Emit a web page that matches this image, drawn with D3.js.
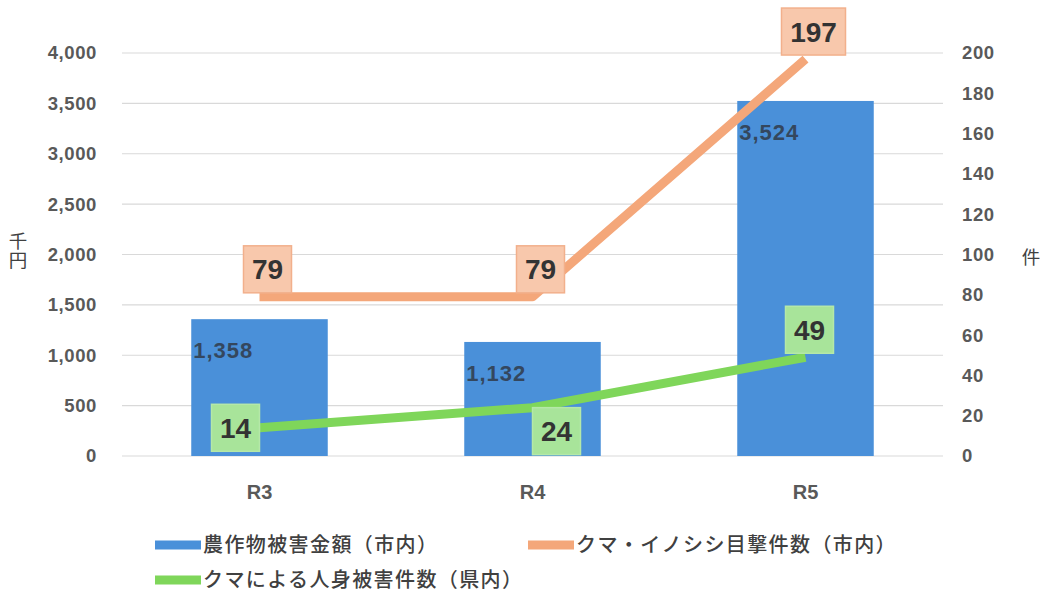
<!DOCTYPE html>
<html><head><meta charset="utf-8">
<script src="https://cdn.jsdelivr.net/npm/d3@7"></script>
<style>body{margin:0;background:#fff}svg{display:block}</style>
</head><body><svg id="c" width="1050" height="596"></svg>
<script>
const categories = ["R3", "R4", "R5"];
const cropDamage = [1358, 1132, 3524];        // 農作物被害金額（市内） 千円
const sightings = [79, 79, 197];              // クマ・イノシシ目撃件数（市内） 件
const injuries = [14, 24, 49];                // クマによる人身被害件数（県内） 件
const leftTicks = [0, 500, 1000, 1500, 2000, 2500, 3000, 3500, 4000];
const rightTicks = [0, 20, 40, 60, 80, 100, 120, 140, 160, 180, 200];
const seriesNames = ["農作物被害金額（市内）", "クマ・イノシシ目撃件数（市内）", "クマによる人身被害件数（県内）"];

const svg = d3.select("#c");
const L = 123, R = 942, T = 53, B = 456;
const font = "'Liberation Sans', Arial, 'Noto Sans CJK JP', sans-serif";
const cjk = "'Noto Sans CJK JP', sans-serif";
const blue = "#4A90D9", orange = "#F4A77A", green = "#7FD65A";
const orangeFill = "#F8C8AC", greenFill = "#A8E49A";

const x = d3.scaleBand().domain(categories).range([L, R]).paddingInner(0.5).paddingOuter(0.25);
const yL = d3.scaleLinear().domain([0, 4000]).range([B, T]);
const yR = d3.scaleLinear().domain([0, 200]).range([B, T]);

// gridlines
svg.append("g").selectAll("line").data(leftTicks).join("line")
  .attr("x1", L - 1).attr("x2", R + 1)
  .attr("y1", d => yL(d)).attr("y2", d => yL(d))
  .attr("stroke", "#d9d9d9").attr("stroke-width", 1.2);

// left axis
const ax = svg.append("g").attr("transform", `translate(${L - 26},0)`)
  .call(d3.axisLeft(yL).tickValues(leftTicks).tickSize(0).tickPadding(0).tickFormat(d3.format(",")));
ax.select(".domain").remove();
ax.selectAll("text").attr("font-family", font).attr("font-size", 18.5).attr("font-weight", "bold")
  .attr("letter-spacing", 0.6).attr("fill", "#595959");

const axr = svg.append("g").attr("transform", `translate(${R + 20},0)`)
  .call(d3.axisRight(yR).tickValues(rightTicks).tickSize(0).tickPadding(0));
axr.select(".domain").remove();
axr.selectAll("text").attr("font-family", font).attr("font-size", 18.5).attr("font-weight", "bold")
  .attr("letter-spacing", 0.6).attr("fill", "#595959");

// axis titles
svg.append("text").attr("x", 18).attr("y", 232)
  .attr("writing-mode", "vertical-rl").style("writing-mode", "vertical-rl")
  .attr("font-family", cjk).attr("font-size", 18.5).attr("fill", "#404040").text("千円");
svg.append("text").attr("x", 1031).attr("y", 264).attr("text-anchor", "middle")
  .attr("font-family", cjk).attr("font-size", 18.5).attr("fill", "#404040").text("件");

// category labels
svg.append("g").selectAll("text").data(categories).join("text")
  .attr("x", d => x(d) + x.bandwidth() / 2).attr("y", 499).attr("text-anchor", "middle")
  .attr("font-family", font).attr("font-size", 20).attr("font-weight", "bold").attr("fill", "#595959")
  .text(d => d);

// bars
svg.append("g").selectAll("rect").data(categories).join("rect")
  .attr("x", d => x(d)).attr("width", x.bandwidth())
  .attr("y", (d, i) => yL(cropDamage[i])).attr("height", (d, i) => B - yL(cropDamage[i]))
  .attr("fill", blue);

// bar labels
svg.append("g").selectAll("text").data(categories).join("text")
  .attr("x", d => x(d) + 2).attr("y", (d, i) => yL(cropDamage[i]) + 39)
  .attr("font-family", font).attr("font-size", 22).attr("font-weight", "bold")
  .attr("letter-spacing", 1).attr("fill", "#34475e")
  .text((d, i) => d3.format(",")(cropDamage[i]));

const cx = d => x(d) + x.bandwidth() / 2;

// lines
const line = d3.line().x((d, i) => cx(categories[i])).y(d => yR(d));
svg.append("path").datum(sightings).attr("d", line)
  .attr("fill", "none").attr("stroke", orange).attr("stroke-width", 9).attr("stroke-linejoin", "round");
svg.append("path").datum(injuries).attr("d", line)
  .attr("fill", "none").attr("stroke", green).attr("stroke-width", 9).attr("stroke-linejoin", "round");

// value boxes
function box(px, py, txt, fill, stroke, place) {
  const h = 47, w = txt.length > 2 ? 64 : 48;
  let bx, by;
  if (place === "above") { bx = px - w / 2 + 8; by = py - h - 4; }
  else if (place === "left") { bx = px - w; by = py - h / 2; }
  else { bx = px; by = py; }
  svg.append("rect").attr("x", bx).attr("y", by).attr("width", w).attr("height", h)
    .attr("fill", fill).attr("stroke", stroke).attr("stroke-width", 1.5);
  svg.append("text").attr("x", bx + w / 2).attr("y", by + h / 2 + 10).attr("text-anchor", "middle")
    .attr("font-family", font).attr("font-size", 28).attr("font-weight", "bold").attr("fill", "#333")
    .text(txt);
}
sightings.forEach((v, i) => box(cx(categories[i]), yR(v), String(v), orangeFill, "#F2B08C", "above"));
const gPlace = ["left", "below", "above"];
injuries.forEach((v, i) => box(cx(categories[i]) - (gPlace[i] === "above" ? 4 : 0), yR(v), String(v), greenFill, "#B5E8A8", gPlace[i]));

// legend
const legend = [
  { name: seriesNames[0], color: blue, x: 155, y: 545 },
  { name: seriesNames[1], color: orange, x: 528, y: 545 },
  { name: seriesNames[2], color: green, x: 155, y: 580 }
];
const lg = svg.append("g");
legend.forEach(l => {
  lg.append("line").attr("x1", l.x).attr("x2", l.x + 46).attr("y1", l.y).attr("y2", l.y)
    .attr("stroke", l.color).attr("stroke-width", 9);
  lg.append("text").attr("x", l.x + 48).attr("y", l.y + 7)
    .attr("font-family", cjk).attr("font-size", 20).attr("letter-spacing", 1.4)
    .attr("font-weight", 500).attr("fill", "#404040").text(l.name);
});
</script></body></html>
